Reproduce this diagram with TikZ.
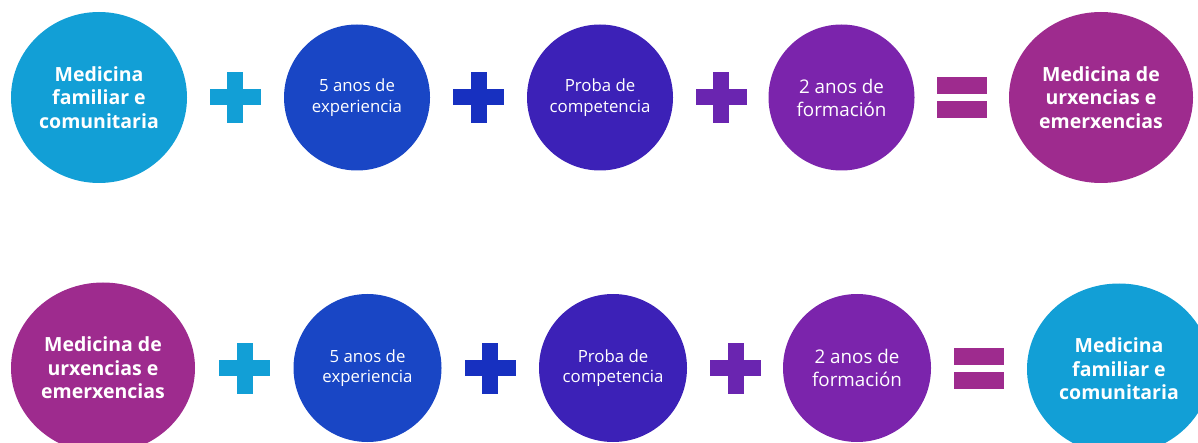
\documentclass[tikz,border=0pt]{standalone}
\usepackage{fontspec}
\setmainfont{Open Sans}
\usetikzlibrary{shapes.geometric}

\definecolor{skyblue}{HTML}{129FD6}
\definecolor{royal}{HTML}{1946C5}
\definecolor{deepblue}{HTML}{1730C0}
\definecolor{indigo}{HTML}{3C21B7}
\definecolor{violet}{HTML}{6A25B0}
\definecolor{grape}{HTML}{7B24AC}
\definecolor{plum}{HTML}{9E2B8E}

\tikzset{
  bubble/.style={ellipse, inner sep=0pt, text=white, align=center,
    minimum width=146, minimum height=146},
  bigbubble/.style={bubble, minimum width=180, minimum height=171,
    font=\bfseries\fontsize{19.5}{23.5}\selectfont},
  smalltext/.style={font=\fontsize{16.8}{20.5}\selectfont},
  midtext/.style={font=\fontsize{18.8}{23}\selectfont},
  plussign/.pic={
    \fill (-25.5,-8) rectangle (25.5,8);
    \fill (-8,-25.5) rectangle (8,25.5);
  },
  equalsign/.pic={
    \fill (-25,-20.5) rectangle (25,-3.5);
    \fill (-25,3.5) rectangle (25,20.5);
  }
}

\begin{document}
\begin{tikzpicture}[x=1pt, y=-1pt]
\useasboundingbox (0,0) rectangle (1198,443);
\clip (0,0) rectangle (1198,443);

% MFeC + experiencia + proba + formacion = MUE
\begin{scope}[shift={(0,97.5)}]
\node[bigbubble, fill=skyblue, minimum width=176] (famA) at (99,0) {Medicina\\familiar e\\comunitaria};
\pic[color=skyblue] at (235,0) {plussign};
\node[bubble, fill=royal, smalltext] (expA) at (357,0) {5 anos de\\experiencia};
\pic[color=deepblue] at (478.5,0) {plussign};
\node[bubble, fill=indigo, smalltext] (probaA) at (600,0) {Proba de\\competencia};
\pic[color=violet] at (721,0) {plussign};
\node[bubble, fill=grape, midtext] (formA) at (841.5,0) {2 anos de\\formación};
\pic[color=plum] at (962,0) {equalsign};
\node[bigbubble, fill=plum, minimum width=184] (urxA) at (1101,0) {Medicina de\\urxencias e\\emerxencias};
\end{scope}

% MUE + experiencia + proba + formacion = MFeC
\begin{scope}[shift={(0,368)}]
\node[bigbubble, fill=plum, minimum width=184] (urxB) at (103,0) {Medicina de\\urxencias e\\emerxencias};
\pic[color=skyblue] at (244.5,0) {plussign};
\node[bubble, fill=royal, smalltext, minimum width=148, minimum height=148] (expB) at (367.5,0) {5 anos de\\experiencia};
\pic[color=deepblue] at (490,0) {plussign};
\node[bubble, fill=indigo, smalltext, minimum width=148, minimum height=148] (probaB) at (613,0) {Proba de\\competencia};
\pic[color=violet] at (735.5,0) {plussign};
\node[bubble, fill=grape, midtext, minimum width=148, minimum height=148] (formB) at (857,0) {2 anos de\\formación};
\pic[color=plum] at (979,0) {equalsign};
\node[bigbubble, fill=skyblue, minimum width=184] (famB) at (1119,1) {Medicina\\familiar e\\comunitaria};
\end{scope}
\end{tikzpicture}
\end{document}
